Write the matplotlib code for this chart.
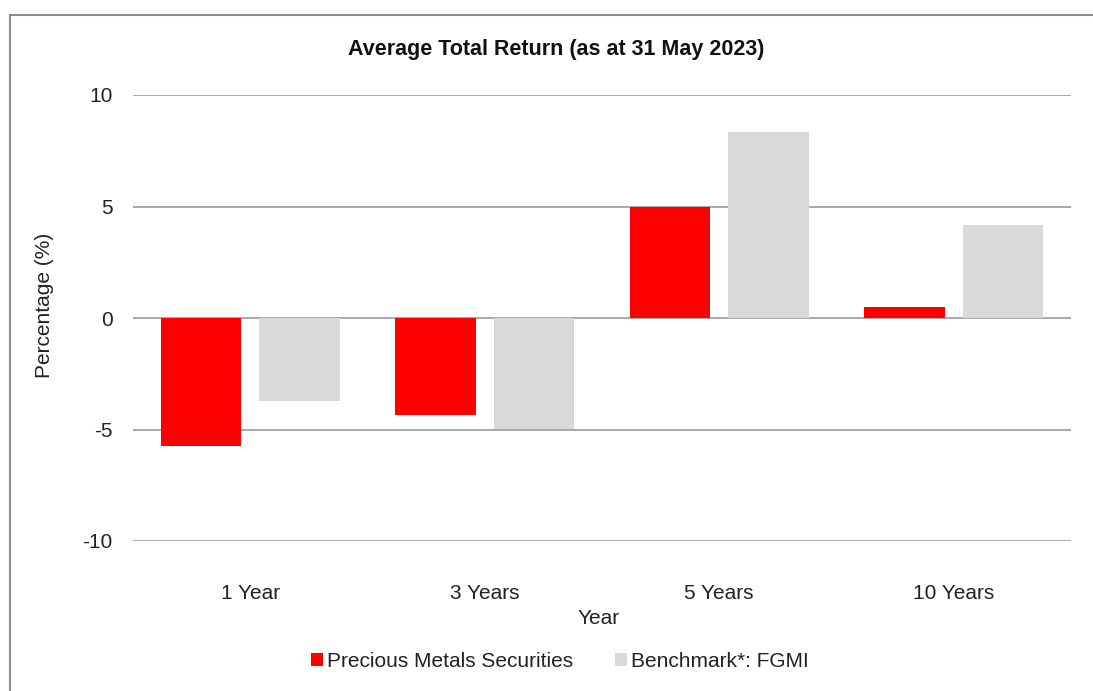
import matplotlib.pyplot as plt
from matplotlib.lines import Line2D
import numpy as np

# Data
categories = ['1 Year', '3 Years', '5 Years', '10 Years']
precious = [-5.74, -4.35, 5.0, 0.49]
benchmark = [-3.72, -4.97, 8.32, 4.16]
series_names = ['Precious Metals Securities', 'Benchmark*: FGMI']

plt.rcParams['font.family'] = ['Liberation Sans', 'DejaVu Sans']

fig = plt.figure(figsize=(10.93, 6.91), dpi=100)
ax = fig.add_axes([133 / 1093, 1 - 541 / 691, (1071 - 133) / 1093, (541 - 95) / 691])

x = np.arange(len(categories))
w = 0.345
ax.bar(x - 0.21, precious, w, color='#ff0000', label=series_names[0], zorder=3)
ax.bar(x + 0.21, benchmark, w, color='#d9d9d9', label=series_names[1], zorder=3)

ax.set_xlim(-0.5, 3.5)
ax.set_ylim(-10, 10)
ax.set_yticks([-10, -5, 0, 5, 10])
ax.set_yticklabels(['-10', '-5', '0', '5', '10'])
ax.yaxis.grid(True, color='#999999', lw=1.2, zorder=0)
ax.set_xticks(x)
ax.set_xticklabels(categories)
ax.tick_params(axis='both', length=0, labelsize=15, colors='#222222')
ax.tick_params(axis='y', pad=14.5)
ax.tick_params(axis='x', pad=31)
for s in ax.spines.values():
    s.set_visible(False)

ax.set_xlabel('Year', fontsize=15, color='#222222', labelpad=4.5)
ax.set_ylabel('Percentage (%)', fontsize=15, color='#222222')
ax.yaxis.set_label_coords((54 - 133) / 938, (541 - 305) / 446)
ax.xaxis.label.set_x((599 - 133) / 938)

fig.text(556.5 / 1093, 1 - 49 / 691, 'Average Total Return (as at 31 May 2023)',
         ha='center', va='center', fontsize=15.5, fontweight='bold', color='#111111')

leg = fig.legend(loc='center', bbox_to_anchor=(560 / 1093, 1 - 661.5 / 691), ncol=2,
                 frameon=False, fontsize=15, handlelength=0.58, handleheight=0.58,
                 handletextpad=0.2, columnspacing=2.0, borderpad=0)
for t in leg.get_texts():
    t.set_color('#222222')

# outer frame (cropped on right and bottom)
fig.add_artist(Line2D([9.5 / 1093, 9.5 / 1093], [0, 1 - 14.5 / 691], color='#8c8c8c', lw=1.5,
                      transform=fig.transFigure))
fig.add_artist(Line2D([9.5 / 1093, 1], [1 - 14.5 / 691, 1 - 14.5 / 691], color='#8c8c8c', lw=1.5,
                      transform=fig.transFigure))

fig.savefig('out.png', dpi=100)
